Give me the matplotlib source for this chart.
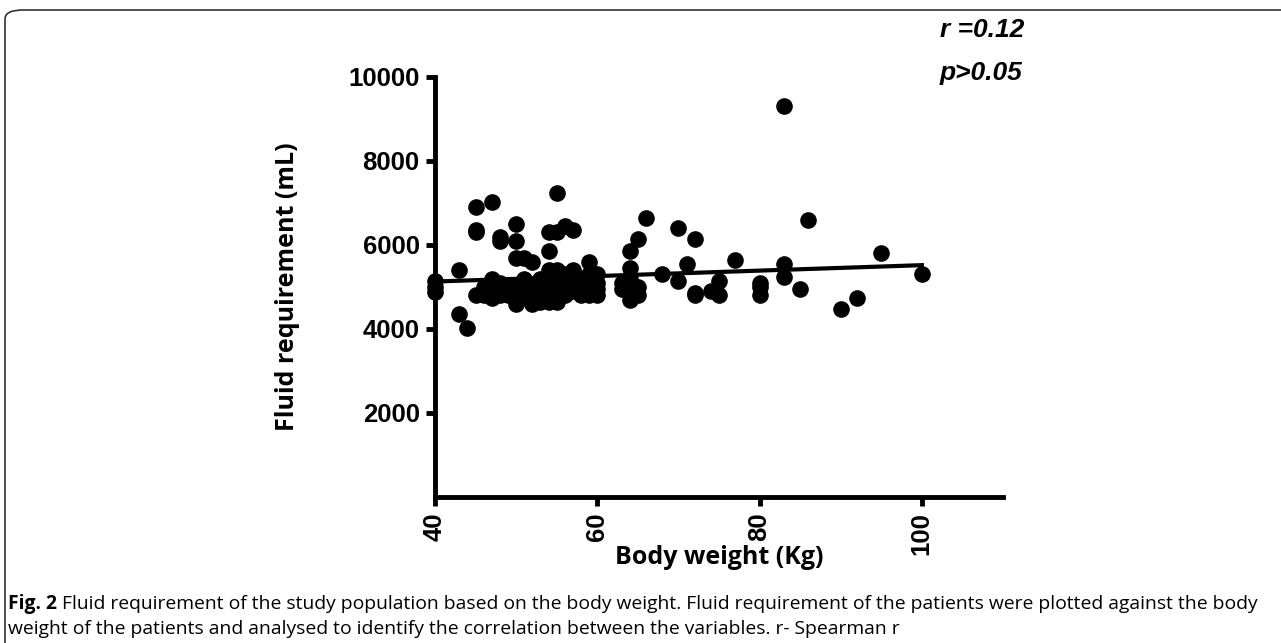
import numpy as np
import matplotlib
matplotlib.use("Agg")
import matplotlib.pyplot as plt
from matplotlib.patches import FancyBboxPatch

# body weight (kg) and fluid requirement (mL)
weight = [40, 40, 40, 43, 43, 44, 45, 45, 45, 45, 46, 46,
          47, 47, 47, 47, 47, 48, 48, 48, 48, 48, 49, 49, 49,
          50, 50, 50, 50, 50, 50, 50, 51, 51, 51, 51,
          52, 52, 52, 52, 52, 53, 53, 53, 53, 53,
          54, 54, 54, 54, 54, 54, 54, 55, 55, 55, 55, 55, 55, 55, 55,
          56, 56, 56, 56, 56, 57, 57, 57, 57, 58, 58,
          59, 59, 59, 59, 60, 60, 60, 60, 63, 63,
          64, 64, 64, 64, 64, 64, 65, 65, 65, 66, 68,
          70, 70, 71, 72, 72, 72, 74, 75, 75, 77,
          80, 80, 80, 83, 83, 83, 85, 86, 90, 92, 95, 100]
fluid = [5150, 5000, 4870, 5400, 4350, 4030, 6900, 6350, 6300, 4800, 5000, 4800,
         7030, 5200, 5000, 4850, 4750, 6200, 6100, 5100, 4900, 4800, 5000, 4900, 4800,
         6500, 6100, 5700, 5050, 4850, 4700, 4600, 5700, 5200, 4900, 4800,
         5600, 5000, 4800, 4700, 4600, 5200, 5050, 4900, 4750, 4650,
         6300, 5850, 5400, 5100, 4900, 4700, 4650, 7250, 6300, 5400, 5200, 5000, 4850, 4700, 4650,
         6450, 5300, 5100, 4900, 4800, 6350, 5400, 5200, 4900, 5200, 4800,
         5600, 5300, 5000, 4800, 5300, 5100, 4950, 4800, 5100, 4950,
         5850, 5450, 5200, 5050, 4900, 4700, 6150, 5000, 4800, 6650, 5300,
         6400, 5150, 5550, 6150, 4850, 4800, 4900, 5150, 4800, 5650,
         5100, 5000, 4800, 9300, 5550, 5250, 4950, 6600, 4480, 4750, 5800, 5300]

fit_x = [40, 100]
fit_y = [5130, 5520]

W, H = 1281, 643
fig = plt.figure(figsize=(W / 100, H / 100), dpi=100)
# axes box in pixels: x 435..1003, y 77..497 (from top)
ax = fig.add_axes([435 / W, 1 - 497 / H, 568 / W, 420 / H])

ax.scatter(weight, fluid, s=120, color="black", zorder=3, clip_on=False)
ax.plot(fit_x, fit_y, color="black", lw=3, zorder=2)

ax.set_xlim(40, 110)
ax.set_ylim(0, 10000)
ax.set_xticks([40, 60, 80, 100])
ax.set_yticks([2000, 4000, 6000, 8000, 10000])

for s in ["top", "right"]:
    ax.spines[s].set_visible(False)
for s in ["left", "bottom"]:
    ax.spines[s].set_linewidth(3.5)
    ax.spines[s].set_capstyle("projecting")

ax.tick_params(axis="both", direction="out", length=6.5, width=3.5, pad=4.5)
for lab in ax.get_yticklabels() + ax.get_xticklabels():
    lab.set_fontfamily("Liberation Sans")
    lab.set_fontweight("bold")
    lab.set_fontsize(18.5)
for lab in ax.get_xticklabels():
    lab.set_rotation(90)

fig.text(719 / W, 1 - 557 / H, "Body weight (Kg)", fontfamily="Open Sans",
         fontweight="bold", fontsize=18, ha="center", va="center")
fig.text(287 / W, 1 - 287 / H, "Fluid requirement (mL)", fontfamily="Open Sans",
         fontweight="bold", fontsize=18, rotation=90, ha="center", va="center")

fig.text(940 / W, 1 - 30 / H, "r =0.12", fontfamily="Liberation Sans", fontweight="bold",
         fontstyle="italic", fontsize=19, ha="left", va="center")
fig.text(940 / W, 1 - 73 / H, "p>0.05", fontfamily="Liberation Sans", fontweight="bold",
         fontstyle="italic", fontsize=19, ha="left", va="center")

# caption
cap_size = 13.85
fig_lbl = fig.text(8 / W, 1 - 604 / H, "Fig. 2", fontfamily="Open Sans", fontweight="bold",
                   fontsize=cap_size, ha="left", va="center")
r = fig.canvas.get_renderer()
x_after = fig_lbl.get_window_extent(r).x1 + 5
fig.text(x_after / W, 1 - 604 / H,
         "Fluid requirement of the study population based on the body weight. "
         "Fluid requirement of the patients were plotted against the body",
         fontfamily="Open Sans", fontsize=cap_size, ha="left", va="center")
fig.text(8 / W, 1 - 629 / H,
         "weight of the patients and analysed to identify the correlation between the variables. r- Spearman r",
         fontfamily="Open Sans", fontsize=cap_size, ha="left", va="center")

frame = FancyBboxPatch((5 / W, -0.05), 1.05, 1.05 - 10 / H,
                       boxstyle="round,pad=0,rounding_size=0.014",
                       transform=fig.transFigure, fill=False,
                       edgecolor="#333333", lw=1.2)
fig.patches.append(frame)

fig.savefig("out.png", dpi=100)
